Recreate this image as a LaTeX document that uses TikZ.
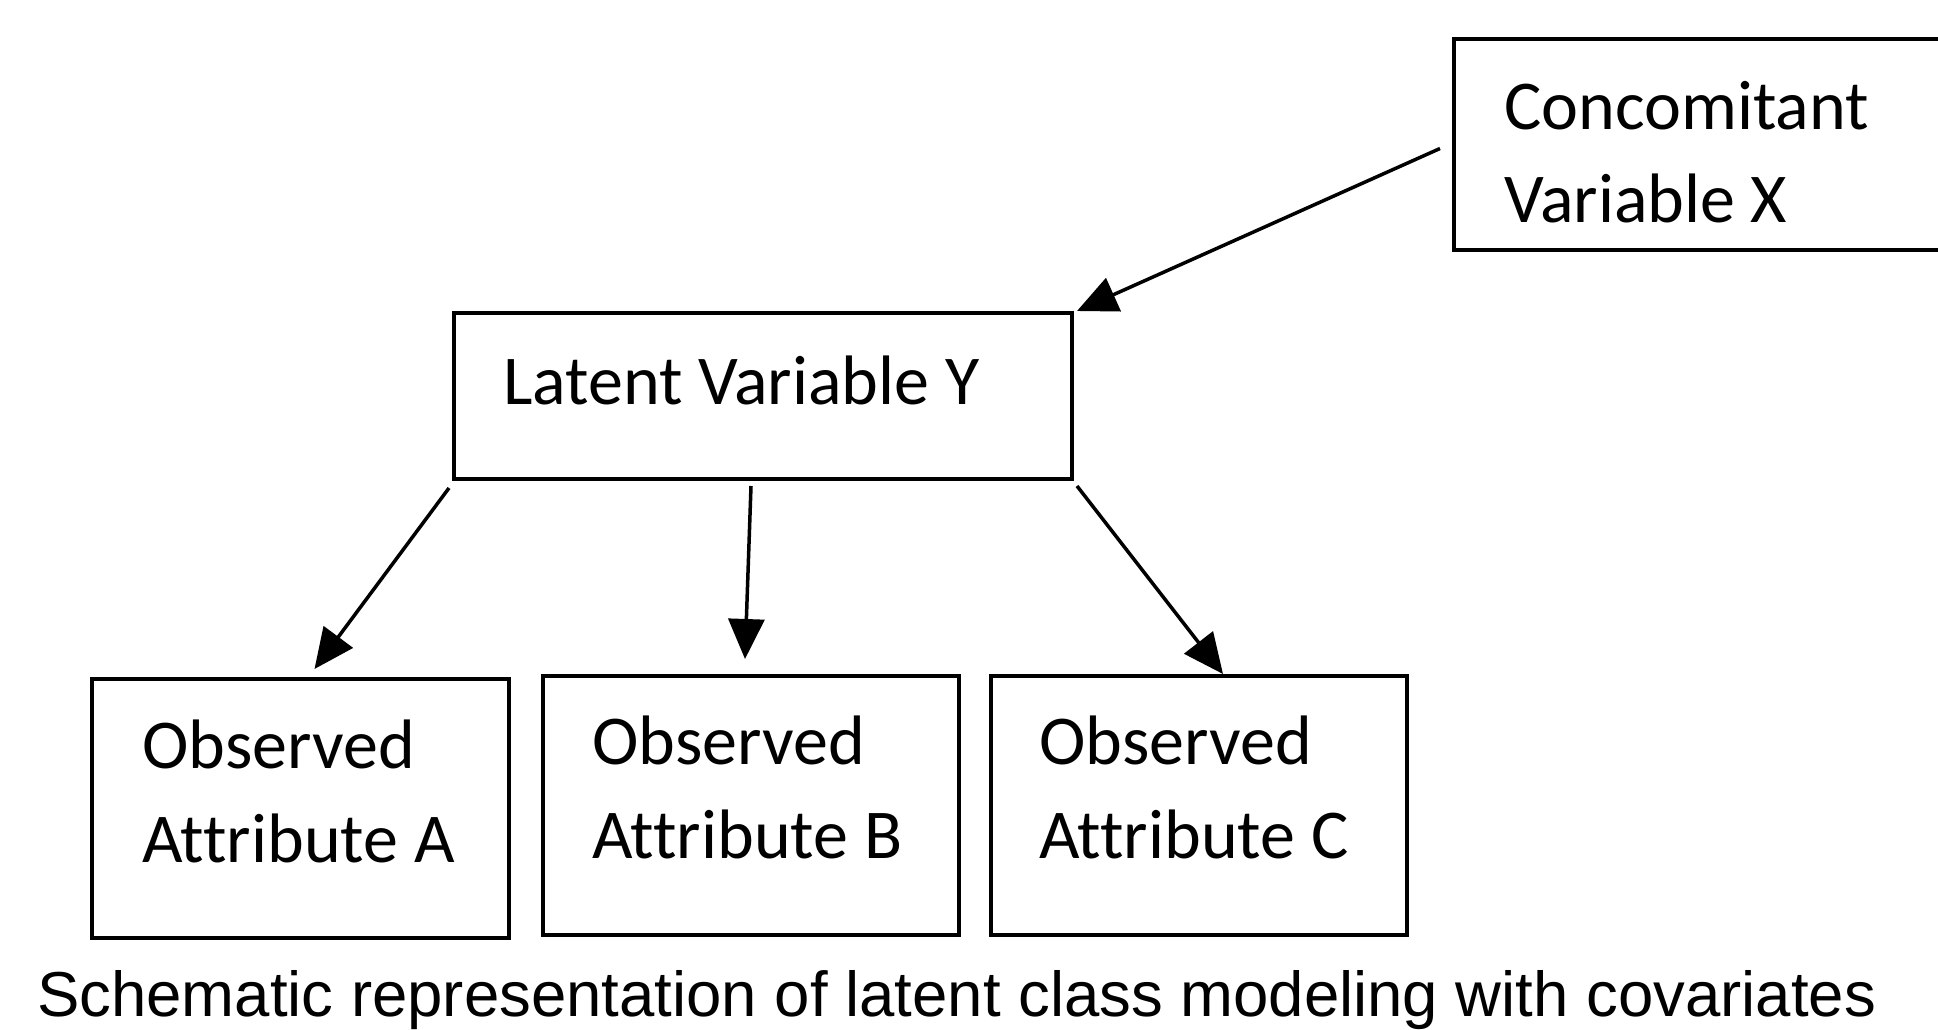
\documentclass[tikz,border=0pt]{standalone}
\usepackage{fontspec}
\setmainfont[Ligatures=CommonOff]{Carlito}
\newfontfamily\capfont{Liberation Sans}
\usetikzlibrary{arrows.meta,calc}
\begin{document}
\begin{tikzpicture}[x=1pt,y=-1pt,
  box/.style={draw, line width=4pt, rectangle, inner sep=0pt},
  txt/.style={anchor=base west, inner sep=0pt, font=\fontsize{70}{93}\selectfont},
  arr/.style={line width=3.5pt, -{Triangle[length=40pt,width=36pt]}}]
\useasboundingbox (0,0) rectangle (1938,1030);
\clip (0,0) rectangle (1938,1030);
\fill[white] (0,0) rectangle (1938,1030);
% boxes
\node[box, minimum width=620pt, minimum height=211pt, anchor=north west] (con) at (1452,37) {};
\node[box, minimum width=618pt, minimum height=166pt, anchor=north west] (lat) at (452,311) {};
\node[box, minimum width=417pt, minimum height=259pt, anchor=north west] (obsA) at (90,677) {};
\node[box, minimum width=416pt, minimum height=259pt, anchor=north west] (obsB) at (541,674) {};
\node[box, minimum width=416pt, minimum height=259pt, anchor=north west] (obsC) at (989,674) {};
% texts
\node[txt] (conT1) at (1504,130) {Concomitant};
\node[txt] (conT2) at (1504,222) {Variable X};
\node[txt] (latT) at (503,404) {Latent Variable Y};
\node[txt] (aT1) at (142,768) {Observed};
\node[txt] (aT2) at (142,862) {Attribute A};
\node[txt] (bT1) at (592,764) {Observed};
\node[txt] (bT2) at (592,858) {Attribute B};
\node[txt] (cT1) at (1039,764) {Observed};
\node[txt] (cT2) at (1039,858) {Attribute C};
% arrows
\draw[arr] ([xshift=-12pt,yshift=-4pt]con.west) -- ([xshift=3pt]lat.north east);
\draw[arr] ([xshift=-3pt,yshift=-7pt]lat.south west) -- ([xshift=14pt,yshift=8pt]obsA.north);
\draw[arr] ([xshift=-12pt,yshift=-5pt]lat.south) -- ([xshift=-6pt,yshift=15pt]obsB.north);
\draw[arr] ([xshift=3pt,yshift=-5pt]lat.south east) -- ([xshift=24pt]obsC.north);
% caption
\node[anchor=base west, inner sep=0pt, font=\capfont\fontsize{63.5}{70}\selectfont] (cap) at (37,1016) {Schematic representation of latent class modeling with covariates};
\end{tikzpicture}
\end{document}
